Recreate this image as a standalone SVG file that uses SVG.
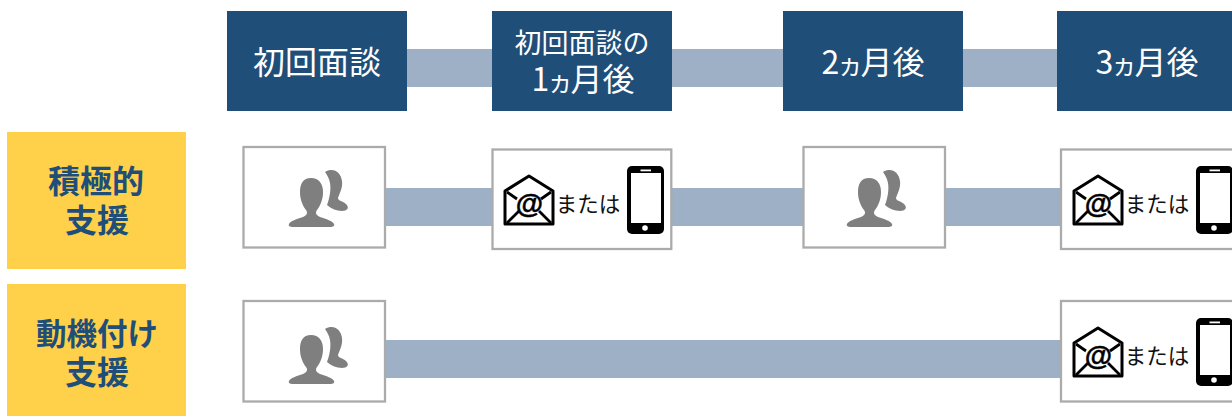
<svg xmlns="http://www.w3.org/2000/svg" width="1232" height="416" viewBox="0 0 1232 416">
<style>
text{font-family:"Noto Sans CJK JP","Noto Sans",sans-serif;text-anchor:middle}
.hd{fill:#1F4E79}
.ht{fill:#fff;font-size:32px}
.ht2{fill:#fff;font-size:27px}
.sm{font-size:26px}
.lb{fill:#FFD04A}
.lt{fill:#1F4E79;font-size:32px;font-weight:700}
.lt2{fill:#1F4E79;font-size:30.500px;font-weight:700}
.box{fill:#fff;stroke:#ABABAB;stroke-width:2.300}
.bar{fill:#9DB0C6}
.or{font-size:21.500px;fill:#111}
</style>
<defs>
<symbol id="people" overflow="visible">
<path fill="#7F7F7F" d="M82 25C90 20 98 25 99 34C100 41 96 47 95 51C95 54 100 54 103 57C107 61 104 64 99 64C94 64 87 61 84 58C87 50 88 42 87 36C86 31 84 28 82 25Z"/>
<path fill="#7F7F7F" d="M68 31C60 31 57 37 57 45C57 53 60 59 63 63C65 66 64 68 60 70C54 72 47 74 46 77C45 79 47 80 50 80L87 80C90 80 92 79 91 77C90 74 83 72 77 70C73 68 72 66 74 63C77 59 80 53 80 45C80 37 76 31 68 31Z"/>
</symbol>
<symbol id="mail" overflow="visible">
<path fill="#fff" stroke="#000" stroke-width="3" stroke-linejoin="round" d="M1 16L25 1L49 16L49 49L1 49Z"/>
<path fill="none" stroke="#000" stroke-width="2.800" d="M3 17L13 24M47 17L37 24M3 48L15 36M47 48L35 36"/>
<text x="25.500" y="38" style="font-family:'Liberation Sans',sans-serif;font-size:28px;font-weight:700;fill:#000;stroke:#000;stroke-width:.5">@</text>
</symbol>
<symbol id="phone" overflow="visible">
<rect x="0" y="0" width="37" height="68" rx="5" fill="#000"/>
<rect x="4" y="7" width="30" height="50" fill="#fff"/>
<rect x="13.500" y="3.500" width="10.500" height="1.800" fill="#fff"/>
<circle cx="18" cy="62" r="2.800" fill="#fff"/>
</symbol>
</defs>
<g id="connectors">
<rect class="bar" x="400" y="49" width="670" height="38"/>
<rect class="bar" x="380" y="188" width="690" height="38"/>
<rect class="bar" x="380" y="340" width="690" height="38"/>
</g>
<g id="h1"><rect class="hd" x="227" y="11" width="180" height="100"/><text class="ht" x="317" y="74">初回面談</text></g>
<g id="h2"><rect class="hd" x="492" y="11" width="180" height="100"/><text class="ht2" x="582" y="53">初回面談の</text><text class="ht" x="583" y="91"><tspan>1</tspan><tspan class="sm" dx="-2">ヵ</tspan><tspan dx="-3">月後</tspan></text></g>
<g id="h3"><rect class="hd" x="783" y="11" width="180" height="100"/><text class="ht" x="873" y="74"><tspan>2</tspan><tspan class="sm" dx="-2">ヵ</tspan><tspan dx="-3">月後</tspan></text></g>
<g id="h4"><rect class="hd" x="1057" y="11" width="180" height="100"/><text class="ht" x="1147" y="74"><tspan>3</tspan><tspan class="sm" dx="-2">ヵ</tspan><tspan dx="-3">月後</tspan></text></g>
<g id="l1"><rect class="lb" x="7" y="132" width="179" height="137"/><text class="lt" x="96" y="193">積極的</text><text class="lt" x="97" y="232">支援</text></g>
<g id="l2"><rect class="lb" x="7" y="284" width="179" height="132"/><text class="lt2" x="97" y="345">動機付け</text><text class="lt" x="97" y="384">支援</text></g>
<g id="a1"><rect class="box" x="243.500" y="147" width="141.500" height="100.500"/><use href="#people" x="243" y="147"/></g>
<g id="a2"><rect class="box" x="492.500" y="149.500" width="178.800" height="99.500"/><use href="#mail" x="504" y="175"/><text class="or" x="588" y="212">または</text><use href="#phone" x="627" y="166"/></g>
<g id="a3"><rect class="box" x="803.500" y="147" width="141.500" height="100.500"/><use href="#people" x="801" y="147"/></g>
<g id="a4"><rect class="box" x="1061" y="149.500" width="180" height="99.500"/><use href="#mail" x="1073" y="175"/><text class="or" x="1157" y="212">または</text><use href="#phone" x="1196" y="166"/></g>
<g id="b1"><rect class="box" x="243.500" y="301" width="141.500" height="100.500"/><use href="#people" x="243" y="304"/></g>
<g id="b2"><rect class="box" x="1061" y="301" width="180" height="100.500"/><use href="#mail" x="1073" y="327"/><text class="or" x="1157" y="364">または</text><use href="#phone" x="1196" y="318"/></g>
</svg>
